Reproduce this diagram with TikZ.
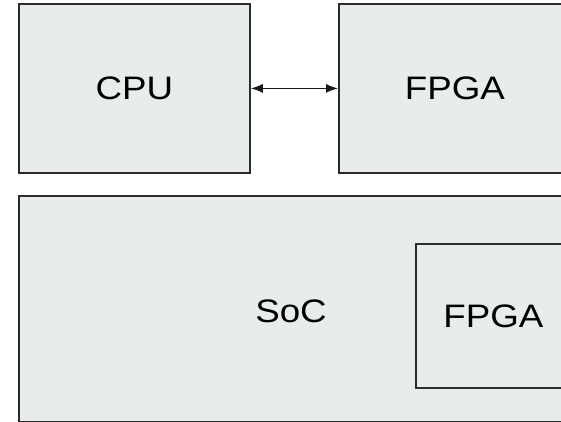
\documentclass[tikz,border=0pt]{standalone}
\usepackage{fontspec}
\setmainfont{Liberation Sans}[FakeStretch=1.13]
\usetikzlibrary{arrows.meta}
\definecolor{boxfill}{HTML}{E8ECEC}
\definecolor{boxline}{HTML}{2B2B2B}
\tikzset{
  unit/.style={x=1pt,y=-1pt},
  label font/.style={font=\fontsize{32.5}{38}\selectfont},
  block/.style={draw=boxline, fill=boxfill, line width=1.8pt, rectangle,
    inner sep=0pt, anchor=north west, label font},
  link/.style={draw=black!90, line width=1.3pt,
    {Latex[length=12pt,width=9pt]}-{Latex[length=12pt,width=9pt]}}
}
\begin{document}
\begin{tikzpicture}[unit]
  \useasboundingbox (0,0) rectangle (561,422);
  \clip (0,0) rectangle (561,422);
  % top row: discrete processor and FPGA
  \node[block, minimum width=231pt, minimum height=169pt] (cpu) at (18,3) {CPU};
  \node[block, minimum width=232pt, minimum height=169pt] (fpga) at (338,3) {FPGA};
  \draw[link] (cpu.east) -- (fpga.west);
  % bottom: system on chip with embedded FPGA fabric
  \node[block, minimum width=546pt, minimum height=226pt] (soc) at (18,195) {};
  \node[label font] (soclabel) at (291,311) {SoC};
  \node[block, minimum width=155pt, minimum height=144pt] (socfpga) at (415,243) {FPGA};
\end{tikzpicture}
\end{document}
